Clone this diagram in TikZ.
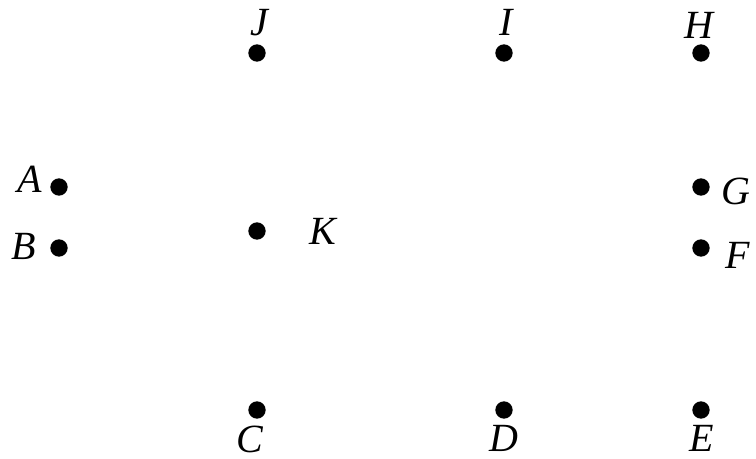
\documentclass[tikz,border=0pt]{standalone}
\usepackage{fontspec}
\newfontfamily\tmsit{Liberation Serif Italic}
\begin{document}
\begin{tikzpicture}[x=0.75pt,y=-0.75pt,
  pt/.style={circle,fill=black,inner sep=0pt,minimum size=13pt},
  lab/.style={font=\tmsit\fontsize{30}{32}\selectfont,inner sep=0pt}]
\useasboundingbox (0,0) rectangle (756,459);
\node[pt] (J) at (257,53) {};
\node[pt] (I) at (504,53) {};
\node[pt] (H) at (701,53) {};
\node[pt] (A) at (59,187) {};
\node[pt] (G) at (701,187) {};
\node[pt] (K) at (257,231) {};
\node[pt] (B) at (59,248) {};
\node[pt] (F) at (701,248) {};
\node[pt] (C) at (257,410) {};
\node[pt] (D) at (504,410) {};
\node[pt] (E) at (701,410) {};
\node[lab] (lJ) at (259,23) {J};
\node[lab] (lI) at (506,22) {I};
\node[lab] (lH) at (699,25) {H};
\node[lab] (lA) at (30,179) {A};
\node[lab] (lG) at (736,191) {G};
\node[lab] (lK) at (323,231) {K};
\node[lab] (lB) at (24,246) {B};
\node[lab] (lF) at (738,255) {F};
\node[lab] (lC) at (250,439) {C};
\node[lab] (lD) at (504,438) {D};
\node[lab] (lE) at (702,438) {E};
\end{tikzpicture}
\end{document}
